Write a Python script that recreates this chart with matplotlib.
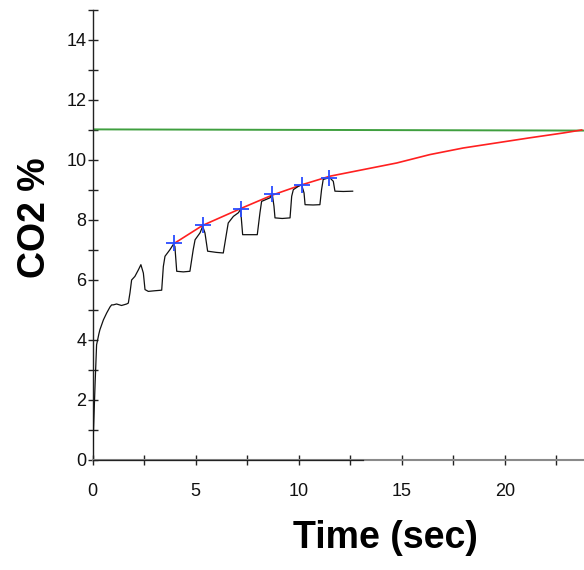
import matplotlib
matplotlib.use("Agg")
import matplotlib.pyplot as plt
from matplotlib.ticker import MultipleLocator

plt.rcParams['font.family'] = ['Liberation Sans', 'DejaVu Sans']

# measured CO2 trace (black)
trace_t = [0.0, 0.04, 0.12, 0.19, 0.3, 0.35, 0.52, 0.68, 0.84, 0.92, 1.0, 1.16, 1.4,
           1.65, 1.73, 1.81, 1.89, 2.05, 2.22, 2.34, 2.46, 2.54, 2.7, 3.0, 3.35, 3.43,
           3.51, 3.75, 3.91, 3.99, 4.08, 4.4, 4.72, 4.88, 4.97, 5.21, 5.34, 5.45, 5.58,
           6.0, 6.34, 6.5, 6.58, 6.83, 7.07, 7.18, 7.28, 7.6, 7.99, 8.12, 8.2, 8.61,
           8.72, 8.8, 8.85, 9.2, 9.58, 9.66, 9.74, 9.98, 10.14, 10.26, 10.31, 10.7,
           11.03, 11.11, 11.19, 11.44, 11.52, 11.68, 11.76, 12.17, 12.62]
trace_v = [0.2, 1.0, 2.6, 3.84, 4.2, 4.34, 4.67, 4.9, 5.1, 5.17, 5.17, 5.2, 5.15,
           5.2, 5.23, 5.57, 6.0, 6.12, 6.34, 6.51, 6.23, 5.68, 5.62, 5.64, 5.66, 6.45,
           6.79, 7.01, 7.18, 7.12, 6.29, 6.27, 6.29, 7.01, 7.34, 7.57, 7.79, 7.57, 6.96,
           6.92, 6.9, 7.57, 7.9, 8.12, 8.24, 8.35, 7.51, 7.51, 7.51, 8.24, 8.62, 8.74,
           8.85, 8.46, 8.07, 8.05, 8.07, 8.79, 9.01, 9.12, 9.18, 8.9, 8.51, 8.5,
           8.51, 9.01, 9.35, 9.4, 9.4, 9.29, 8.96, 8.95, 8.96]

# zero segment of the trace along the axis
base_t = [0.0, 13.1]
base_v = [0.0, 0.0]

# peak points (blue +)
peak_t = [3.96, 5.34, 7.18, 8.72, 10.14, 11.49]
peak_v = [7.24, 7.82, 8.38, 8.85, 9.18, 9.40]

# fitted curve (red)
fit_t = [3.96, 5.34, 7.18, 8.72, 10.14, 11.52, 13.14, 14.76, 16.37, 17.99, 19.61,
         21.23, 22.84, 23.74]
fit_v = [7.22, 7.82, 8.38, 8.83, 9.17, 9.46, 9.68, 9.9, 10.18, 10.4, 10.57,
         10.74, 10.9, 11.0]

# asymptote (green)
asym_t = [0.0, 23.85]
asym_v = [11.02, 10.98]

fig = plt.figure(figsize=(5.84, 5.70), dpi=100)
ax = fig.add_axes([0.1587, 0.193, 1 - 0.1587, 0.7895])

ax.plot(asym_t, asym_v, color='#3f9f3f', lw=1.4, zorder=2)
ax.plot(fit_t, fit_v, color='#ff2020', lw=1.2, zorder=3)
ax.plot(trace_t, trace_v, color='#111111', lw=0.9, zorder=4)
ax.plot(base_t, base_v, color='#222222', lw=0.9, zorder=5, clip_on=False)
ax.plot(peak_t, peak_v, linestyle='none', marker='+', color='#2a4cff',
        markersize=12, markeredgewidth=1.3, zorder=6)

ax.set_xlim(0, 23.85)
ax.set_ylim(0, 15)

for side in ['top', 'right']:
    ax.spines[side].set_visible(False)
ax.spines['left'].set_color('#222222')
ax.spines['left'].set_linewidth(1.0)
ax.spines['bottom'].set_color('#8a8a8a')
ax.spines['bottom'].set_linewidth(1.5)

ax.xaxis.set_major_locator(MultipleLocator(5))
ax.xaxis.set_minor_locator(MultipleLocator(2.5))
ax.yaxis.set_major_locator(MultipleLocator(2))
ax.yaxis.set_minor_locator(MultipleLocator(1))

ax.tick_params(axis='both', which='both', direction='inout', length=7, width=1,
               color='#222222', labelsize=13, labelcolor='#111111')
ax.tick_params(axis='x', which='major', pad=13)
ax.tick_params(axis='y', which='major', pad=1)

ax.set_xlabel('Time (sec)', fontsize=27, fontweight='bold')
ax.set_ylabel('CO2 %', fontsize=27, fontweight='bold')
ax.xaxis.set_label_coords(0.595, -0.133)
ax.yaxis.set_label_coords(-0.081, 0.538)

fig.savefig('out.png', dpi=100)
